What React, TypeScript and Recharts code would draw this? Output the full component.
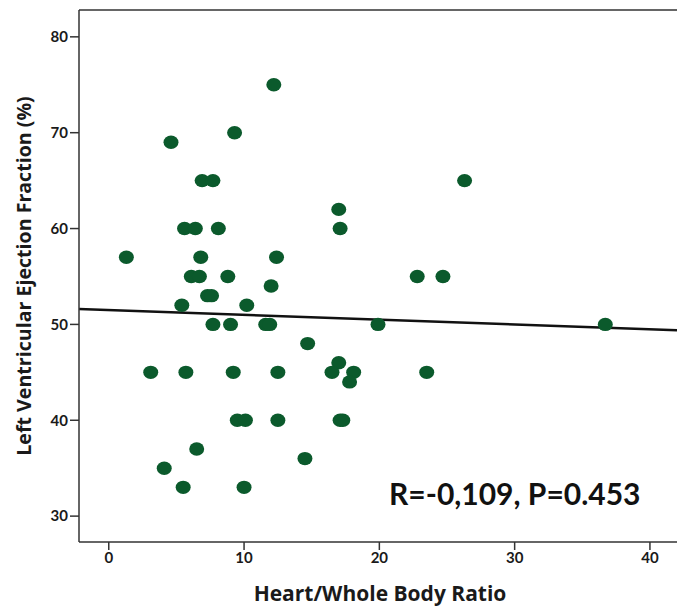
import React from "react";
import {
  ScatterChart,
  Scatter,
  XAxis,
  YAxis,
  ReferenceLine,
  Label,
} from "recharts";

// Heart/Whole Body Ratio vs LVEF (%)
const ratio = [
  12.2, 9.3, 4.6, 6.9, 7.7, 26.3, 17.0, 5.6, 6.4, 8.1, 17.1, 1.3, 6.8, 12.4,
  6.1, 6.7, 8.8, 22.8, 24.7, 12.0, 7.3, 7.6, 5.4, 10.2, 7.7, 9.0, 11.6, 11.9,
  19.9, 36.7, 14.7, 17.0, 3.1, 5.7, 9.2, 12.5, 16.5, 18.1, 23.5, 17.8, 9.5,
  10.1, 12.5, 17.1, 17.3, 6.5, 14.5, 4.1, 5.5, 10.0,
];
const lvef = [
  75, 70, 69, 65, 65, 65, 62, 60, 60, 60, 60, 57, 57, 57, 55, 55, 55, 55, 55,
  54, 53, 53, 52, 52, 50, 50, 50, 50, 50, 50, 48, 46, 45, 45, 45, 45, 45, 45,
  45, 44, 40, 40, 40, 40, 40, 37, 36, 35, 33, 33,
];

const xTicks = [0, 10, 20, 30, 40];
const yTicks = [30, 40, 50, 60, 70, 80];
const xDomain = [-2.2, 42];
const yDomain = [27.3, 82.8];

// fit line
const fitIntercept = 51.5;
const fitSlope = -0.05;

const points = ratio.map((x, i) => ({ x, y: lvef[i] }));

const FONT = "Lato, 'Open Sans', sans-serif";
const TITLE_FONT = "'Open Sans', Lato, sans-serif";
const GREEN = "#0b5a2c";
const AXIS = "#333333";

const Dot = (props: any) => {
  const { cx, cy } = props;
  return <ellipse cx={cx} cy={cy} rx={7.5} ry={6.7} fill={GREEN} />;
};

const tickStyle = { fill: "#1a1a1a", fontSize: 15, fontWeight: 700, fontFamily: FONT };

const App = () => {
  return (
    <div style={{ position: "absolute", left: 0, top: 0, width: 677, height: 610 }}>
      <ScatterChart
        width={677}
        height={610}
        margin={{ top: 10, right: 0, left: 0, bottom: 38 }}
      >
        <XAxis
          type="number"
          dataKey="x"
          domain={xDomain}
          ticks={xTicks}
          allowDataOverflow
          stroke={AXIS}
          strokeWidth={1.5}
          tickSize={8}
          tickMargin={2}
          height={30}
          tick={tickStyle}
        >
          <Label
            content={({ viewBox }: any) => (
              <text
                x={380}
                y={601}
                textAnchor="middle"
                fill="#1a1a1a"
                fontFamily={TITLE_FONT}
                fontWeight={700}
                fontSize={21}
              >
                Heart/Whole Body Ratio
              </text>
            )}
          />
        </XAxis>
        <YAxis
          type="number"
          dataKey="y"
          domain={yDomain}
          ticks={yTicks}
          allowDataOverflow
          width={79}
          stroke={AXIS}
          strokeWidth={1.5}
          tickSize={9}
          tickMargin={2}
          tick={tickStyle}
        >
          <Label
            content={({ viewBox }: any) => {
              const cy = viewBox.y + viewBox.height / 2;
              return (
                <text
                  x={31}
                  y={cy}
                  transform={`rotate(-90 31 ${cy})`}
                  textAnchor="middle"
                  fill="#1a1a1a"
                  fontFamily={TITLE_FONT}
                  fontWeight={700}
                  fontSize={19.6}
                >
                  Left Ventricular Ejection Fraction (%)
                </text>
              );
            }}
          />
        </YAxis>
        <ReferenceLine y={yDomain[1]} stroke={AXIS} strokeWidth={1.5} />
        <ReferenceLine
          segment={[
            { x: xDomain[0], y: fitIntercept + fitSlope * xDomain[0] },
            { x: xDomain[1], y: fitIntercept + fitSlope * xDomain[1] },
          ]}
          stroke="#111"
          strokeWidth={2.5}
        />
        <Scatter data={points} shape={<Dot />} isAnimationActive={false} />
      </ScatterChart>
      <div
        style={{
          position: "absolute",
          left: 389,
          top: 475,
          fontFamily: FONT,
          fontWeight: 700,
          fontSize: 30,
          color: "#111",
          whiteSpace: "nowrap",
        }}
      >
        R=-0,109, P=0.453
      </div>
    </div>
  );
};

export default App;
